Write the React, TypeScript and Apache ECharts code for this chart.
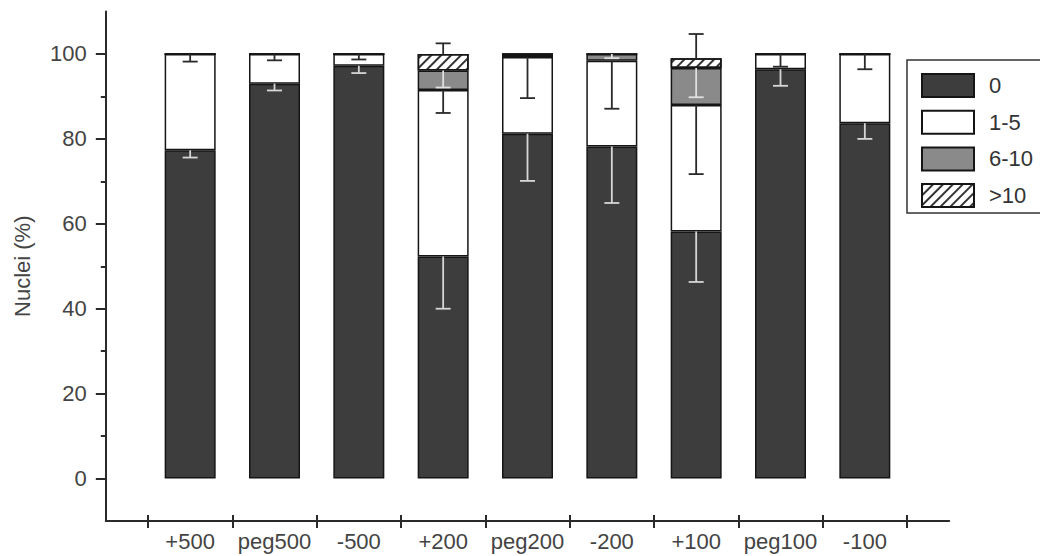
import React, { useEffect, useRef } from "react";
import * as echarts from "echarts";

const categories = ["+500", "peg500", "-500", "+200", "peg200", "-200", "+100", "peg100", "-100"];
const seriesNames = ["0", "1-5", "6-10", ">10"];

const zero = [77.3, 93.0, 97.2, 52.3, 81.2, 78.2, 58.2, 96.4, 83.7];
const oneToFive = [22.7, 7.0, 2.8, 39.2, 18.1, 20.2, 29.8, 3.6, 16.3];
const sixToTen = [0, 0, 0, 4.6, 0.7, 1.6, 8.7, 0, 0];
const overTen = [0, 0, 0, 3.9, 0, 0, 2.3, 0, 0];

// error bar lengths (first three drawn downward from the segment top, ">10" upward)
const zeroErr = [1.7, 1.6, 1.7, 12.3, 11.1, 13.3, 11.9, 3.9, 3.7];
const oneToFiveErr = [1.8, 1.5, 1.3, 5.4, 9.7, 11.3, 16.3, 3.0, 3.6];
const sixToTenErr = [0, 0, 0, 4.0, 0, 1.0, 6.9, 0, 0];
const overTenErr = [0, 0, 0, 2.5, 0, 0, 5.7, 0, 0];

const yLabelValues = [0, 20, 40, 60, 80, 100];
const yMinorValues = [10, 30, 50, 70, 90];

const FONT = "'Liberation Sans', Arial, sans-serif";

export default function App() {
  const ref = useRef<HTMLDivElement>(null);

  useEffect(() => {
    if (!ref.current) return;
    const chart = echarts.init(ref.current, null, { renderer: "svg" });

    const segs = [zero, oneToFive, sixToTen, overTen];
    const errs = [zeroErr, oneToFiveErr, sixToTenErr, overTenErr];
    const errUp = [false, false, false, true];
    const errColors = ["#d6d6d6", "#2a2a2a", "#e0e0e0", "#2a2a2a"];
    const fills = ["#3d3d3d", "#ffffff", "#8a8a8a", "#ffffff"];

    const barSeries = segs.map((vals, k) => {
      const itemStyle: any = {
        color: fills[k],
        borderColor: "#151515",
        borderWidth: 1.5,
      };
      if (k === 3) {
        itemStyle.decal = {
          symbol: "rect",
          symbolSize: 1,
          dashArrayX: [[1, 0]],
          dashArrayY: [1.6, 4.4],
          rotation: -Math.PI / 4,
          color: "#333333",
        };
      }
      return {
        name: seriesNames[k],
        type: "bar",
        stack: "total",
        xAxisIndex: 0,
        yAxisIndex: 0,
        barWidth: 51,
        data: vals,
        itemStyle,
        z: 2,
      };
    });

    const errSeries = segs.map((vals, k) => {
      const data: any[] = [];
      vals.forEach((_, i) => {
        const e = errs[k][i];
        if (!e) return;
        let top = 0;
        for (let j = 0; j <= k; j++) top += segs[j][i];
        data.push([categories[i], top, errUp[k] ? top + e : top - e]);
      });
      const color = errColors[k];
      return {
        type: "custom",
        name: "err" + k,
        xAxisIndex: 0,
        yAxisIndex: 0,
        z: 5,
        silent: true,
        encode: { x: 0, y: [1, 2] },
        data,
        renderItem: (params: any, api: any) => {
          const x = api.value(0);
          const a = api.coord([x, api.value(1)]);
          const b = api.coord([x, api.value(2)]);
          const style = { stroke: color, lineWidth: 1.8 };
          return {
            type: "group",
            children: [
              { type: "line", shape: { x1: a[0], y1: a[1], x2: b[0], y2: b[1] }, style },
              { type: "line", shape: { x1: b[0] - 7.5, y1: b[1], x2: b[0] + 7.5, y2: b[1] }, style },
            ],
          };
        },
      };
    });

    const tickPositions = categories.map((_, i) => i + 0.5).concat([categories.length + 0.5]);

    const option: any = {
      animation: false,
      backgroundColor: "#ffffff",
      textStyle: { fontFamily: FONT },
      grid: [
        { left: 148, right: 133, top: 11.5, bottom: 35, containLabel: false },
        { left: 105.8, right: 90.8, top: 11.5, bottom: 35, containLabel: false },
      ],
      legend: {
        orient: "vertical",
        left: 921,
        top: 73,
        padding: 0,
        itemWidth: 52,
        itemHeight: 23,
        itemGap: 11.7,
        icon: "rect",
        data: seriesNames,
        textStyle: { fontSize: 22, color: "#333", fontFamily: FONT, padding: [0, 0, 0, 10] },
        selectedMode: false,
      },
      graphic: [
        {
          type: "rect",
          shape: { x: 907, y: 60, width: 200, height: 153 },
          style: { fill: "none", stroke: "#333", lineWidth: 1.5 },
          z: 0,
        },
      ],
      xAxis: [
        {
          type: "category",
          gridIndex: 0,
          data: categories,
          boundaryGap: true,
          show: false,
        },
        {
          type: "value",
          gridIndex: 1,
          min: 0,
          max: 10,
          position: "bottom",
          axisLine: { show: true, onZero: false, lineStyle: { color: "#2a2a2a", width: 2 } },
          axisTick: {
            show: true,
            length: 7,
            inside: false,
            customValues: tickPositions,
            lineStyle: { color: "#2a2a2a", width: 2 },
          },
          axisLabel: {
            show: true,
            customValues: categories.map((_, i) => i + 1),
            formatter: (v: number) => categories[Math.round(v) - 1] ?? "",
            fontSize: 22,
            color: "#444",
            margin: 9,
            fontFamily: FONT,
          },
          splitLine: { show: false },
        },
        {
          type: "value",
          gridIndex: 1,
          min: 0,
          max: 10,
          position: "bottom",
          axisLine: { show: false, onZero: false },
          axisTick: {
            show: true,
            length: 6,
            inside: true,
            customValues: tickPositions,
            lineStyle: { color: "#2a2a2a", width: 2 },
          },
          axisLabel: { show: false },
          splitLine: { show: false },
        },
      ],
      yAxis: [
        {
          type: "value",
          gridIndex: 0,
          min: -10,
          max: 110,
          show: false,
        },
        {
          type: "value",
          gridIndex: 1,
          min: -10,
          max: 110,
          position: "left",
          name: "Nuclei (%)",
          nameLocation: "middle",
          nameGap: 72,
          nameTextStyle: { fontSize: 22, color: "#444", fontFamily: FONT },
          axisLine: { show: true, onZero: false, lineStyle: { color: "#2a2a2a", width: 2 } },
          axisTick: {
            show: true,
            length: 10,
            customValues: yLabelValues,
            lineStyle: { color: "#2a2a2a", width: 2 },
          },
          axisLabel: {
            show: true,
            customValues: yLabelValues,
            fontSize: 22,
            color: "#444",
            margin: 19,
            fontFamily: FONT,
          },
          splitLine: { show: false },
        },
        {
          type: "value",
          gridIndex: 1,
          min: -10,
          max: 110,
          position: "left",
          axisLine: { show: false, onZero: false },
          axisTick: {
            show: true,
            length: 5,
            customValues: yMinorValues,
            lineStyle: { color: "#2a2a2a", width: 2 },
          },
          axisLabel: { show: false },
          splitLine: { show: false },
        },
      ],
      series: [...barSeries, ...errSeries],
    };

    chart.setOption(option);
    return () => chart.dispose();
  }, []);

  return (
    <div
      ref={ref}
      style={{ position: "absolute", left: 0, top: 0, width: 1040, height: 556 }}
    />
  );
}
